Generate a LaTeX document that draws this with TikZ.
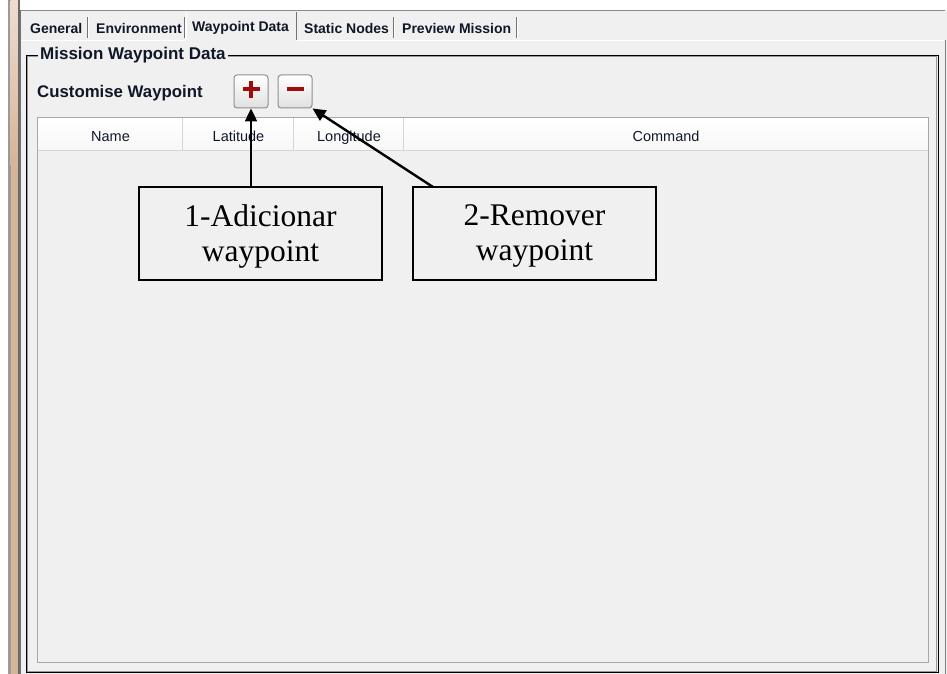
\documentclass[tikz,border=0pt]{standalone}
\usepackage{fontspec}
\setmainfont{Liberation Serif}
\newfontfamily\uifont{Liberation Sans}
\usetikzlibrary{arrows.meta}
\definecolor{panel}{HTML}{F0F0F0}
\definecolor{tan}{HTML}{D6B496}
\definecolor{tanlight}{HTML}{EFDCD0}
\definecolor{stripegray}{HTML}{9A9A9A}
\definecolor{framegray}{HTML}{6A6A6A}
\definecolor{tblborder}{HTML}{A8A8A8}
\definecolor{sepgray}{HTML}{D5D5D5}
\definecolor{btnborder}{HTML}{8E8E8E}
\definecolor{signred}{HTML}{A30A0A}
\definecolor{uitext}{HTML}{101828}
\tikzset{
  tablabel/.style={font=\uifont\bfseries\fontsize{14}{16}\selectfont, text=uitext, inner sep=0pt, anchor=base west},
  hdrlabel/.style={font=\uifont\fontsize{14.5}{16}\selectfont, text=uitext, inner sep=0pt, anchor=base},
  btn/.style={draw=btnborder, line width=1pt, rounded corners=3pt, minimum width=34pt, minimum height=33pt, inner sep=0pt, top color=white, bottom color=black!12},
  callout/.style={draw=black, line width=1.4pt, fill=panel, minimum width=243pt, minimum height=93pt, align=center, font=\fontsize{31.5}{35}\selectfont, inner sep=0pt},
  callouttext/.style={align=center, font=\fontsize{31.5}{35}\selectfont, inner sep=0pt},
  arr/.style={line width=2.4pt, -{Triangle[length=13pt,width=12pt]}},
}
\begin{document}
\begin{tikzpicture}[x=1pt,y=-1pt]
\useasboundingbox (0,0) rectangle (947,674);
\fill[white] (0,0) rectangle (947,674);
% left stripe
\fill[stripegray] (8,0) rectangle (10.5,674);
\shade[top color=tanlight,bottom color=tan] (10.5,0) rectangle (18,165);
\fill[tan] (10.5,165) rectangle (18,674);
\fill[framegray] (18,0) rectangle (20,674);
% panel
\fill[panel] (20,10) rectangle (947,674);
\draw[black!45, line width=1pt] (20,10.5) -- (945,10.5);
\draw[black!55, line width=1pt] (20.5,10) -- (20.5,674);
\draw[black!50, line width=1pt] (945.5,40) -- (945.5,674);
% tab strip
\draw[white, line width=1.5pt] (21,40.5) -- (186,40.5);
\draw[white, line width=1.5pt] (297,40.5) -- (944,40.5);
\foreach \sx in {87,184,393,516}{
  \draw[black!55, line width=1pt] (\sx,17) -- (\sx,38);
  \draw[white, line width=1pt] (\sx+1.2,17) -- (\sx+1.2,38);
}
\draw[black!55, line width=1pt] (296,12) -- (296,40);
\draw[white, line width=1pt] (186.5,12) -- (186.5,40);
\node[tablabel] (tgen) at (30,34) {General};
\node[tablabel] (tenv) at (96,34) {Environment};
\node[tablabel] (twp) at (192,32) {Waypoint Data};
\node[tablabel] (tsn) at (304,34) {Static Nodes};
\node[tablabel] (tpm) at (402,34) {Preview Mission};
% group box
\draw[black!40, line width=0.8pt] (27.5,56.5) rectangle (936.5,671.5);
\draw[black, line width=1.1pt] (26.5,55.5) rectangle (938.5,672.5);
\node[fill=panel, inner xsep=2pt, inner ysep=1pt, anchor=west, font=\uifont\bfseries\fontsize{17}{19}\selectfont, text=uitext] (grp) at (38,55) {Mission Waypoint Data};
\node[inner sep=0pt, anchor=base west, font=\uifont\bfseries\fontsize{16.8}{19}\selectfont, text=uitext] (cust) at (37,98) {Customise Waypoint};
% buttons
\node[btn] (plus) at (251,91.5) {};
\node[btn] (minus) at (295,91.5) {};
\fill[signred] ([shift={(-8.5,-4)}]plus.center) rectangle ([shift={(8.5,0)}]plus.center);
\fill[signred] ([shift={(-2,-10.5)}]plus.center) rectangle ([shift={(2,6.5)}]plus.center);
\fill[signred] ([shift={(-8.5,-4)}]minus.center) rectangle ([shift={(8.5,0)}]minus.center);
% table
\fill[white] (37,117) rectangle (929,663);
\fill[panel] (37,150) rectangle (929,663);
\shade[top color=white,bottom color=black!3] (38,118) rectangle (928,150);
\draw[sepgray, line width=1pt] (38,150.5) -- (928,150.5);
\foreach \cx in {182,293,403}{
  \draw[sepgray, line width=1pt] (\cx,118) -- (\cx,150);
}
\draw[tblborder, line width=1.2pt] (37.5,117.5) rectangle (928.5,662.5);
\node[hdrlabel] (hname) at (110.5,141) {Name};
\node[hdrlabel] (hlat) at (238.5,141) {Latitude};
\node[hdrlabel] (hlon) at (349,141) {Longitude};
\node[hdrlabel] (hcmd) at (666,141) {Command};
% callouts
\node[callout] (box1) at (260.5,233.5) {};
\node[callout] (box2) at (534.5,233.5) {};
\node[callouttext] (t1) at (260.5,236) {1-Adicionar\\waypoint};
\node[callouttext] (t2) at (534.5,236) {2-Remover\\waypoint};
\coordinate (a2) at (433,187);
\draw[arr] (box1.north -| plus.south) -- (plus.south);
\draw[arr] (a2) -- (minus.south east);
\end{tikzpicture}
\end{document}
